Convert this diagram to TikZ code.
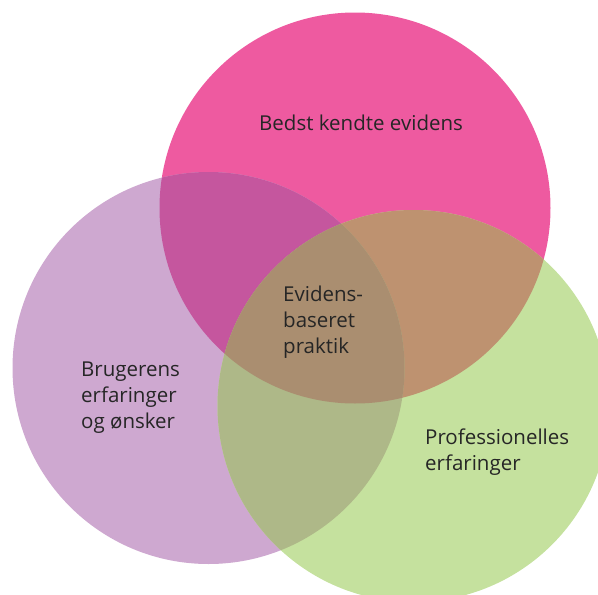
\documentclass[tikz,border=0pt]{standalone}
\usepackage{fontspec}
\setmainfont{Open Sans}

\definecolor{evpink}{HTML}{EE5AA0}
\definecolor{brlilla}{HTML}{CEA8D0}
\definecolor{prgroen}{HTML}{C5E19E}
\definecolor{pinklilla}{HTML}{C5569E}
\definecolor{pinkgroen}{HTML}{BE9270}
\definecolor{lillagroen}{HTML}{AEB888}
\definecolor{midte}{HTML}{AA8E70}

\def\evcirc{(355,208) circle (195.5)}
\def\brcirc{(208.5,368) circle (196)}
\def\prcirc{(413.5,406) circle (196)}

\begin{document}
\begin{tikzpicture}[x=1pt, y=-1pt,
    label/.style={anchor=base west, align=left, inner sep=0pt, text=black!85,
                  font=\fontsize{20.5}{26}\selectfont}]
				\useasboundingbox (0,0) rectangle (598,595);
				\clip (0,0) rectangle (598,595);
				
				% The three circles
				\fill[evpink] \evcirc;
				\fill[brlilla] \brcirc;
				\fill[prgroen] \prcirc;
				
				% Overlaps of two circles
				\begin{scope}
					\clip \evcirc;
					\fill[pinklilla] \brcirc;
					\fill[pinkgroen] \prcirc;
				\end{scope}
				\begin{scope}
					\clip \brcirc;
					\fill[lillagroen] \prcirc;
				\end{scope}
				
				% Overlap of all three
				\begin{scope}
					\clip \evcirc;
					\clip \brcirc;
					\fill[midte] \prcirc;
				\end{scope}
				
				% Labels (base = baseline of the last line)
				\node[label] (evidens) at (259,130) {Bedst kendte evidens};
				\node[label] (praksis) at (283,353) {Evidens-\\baseret\\praktik};
				\node[label] (bruger) at (81,428) {Brugerens\\erfaringer\\og ønsker};
				\node[label] (prof) at (425,470) {Professionelles\\erfaringer};
			\end{tikzpicture}
\end{document}
